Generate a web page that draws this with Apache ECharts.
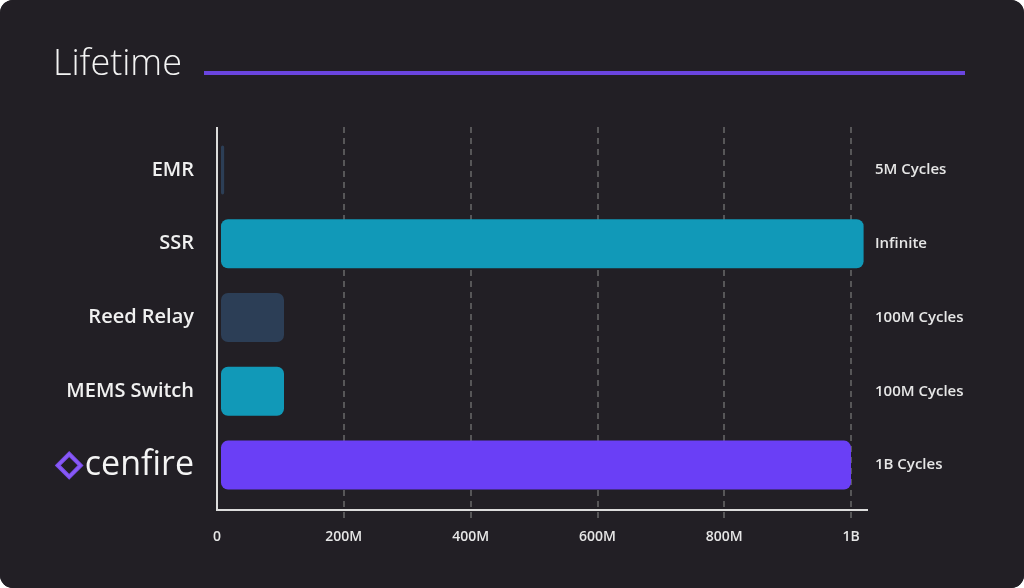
<!DOCTYPE html>
<html>
<head>
<meta charset="utf-8">
<script src="https://cdn.jsdelivr.net/npm/echarts@6/dist/echarts.min.js"></script>
<style>
  html, body { margin: 0; padding: 0; background: #ffffff; }
  #main { width: 1024px; height: 588px; border-radius: 13px; overflow: hidden; background: #221f25; }
</style>
</head>
<body>
<div id="main"></div>
<script>
// 数据
var categories = ['EMR', 'SSR', 'Reed Relay', 'MEMS Switch', 'cenfire'];
var lifetimes = [5e6, 1.02e9, 1e8, 1e8, 1e9];
var notes = ['5M Cycles', 'Infinite', '100M Cycles', '100M Cycles', '1B Cycles'];
var tickLabels = { 0: '0', 200000000: '200M', 400000000: '400M', 600000000: '600M', 800000000: '800M', 1000000000: '1B' };
var barColors = ['#2c3e56', '#1199b8', '#2c3e56', '#1199b8', '#6a3ff6'];

var chart = echarts.init(document.getElementById('main'));
var font = "'Open Sans', 'Noto Sans', sans-serif";

chart.setOption({
    backgroundColor: '#221f25',
    animation: false,
    title: {
        text: 'Lifetime',
        left: 48,
        top: 42,
        textStyle: { color: '#f3f3f3', fontSize: 36, fontWeight: 300, fontFamily: font }
    },
    graphic: [
        // 标题下的紫线
        { type: 'line', shape: { x1: 204, y1: 73, x2: 965, y2: 73 }, style: { stroke: '#6a45e0', lineWidth: 4 }, z: 10 },
        // 坐标轴线
        { type: 'line', shape: { x1: 217, y1: 127, x2: 217, y2: 511 }, style: { stroke: '#dcdcdc', lineWidth: 2 }, z: 10 },
        { type: 'line', shape: { x1: 216, y1: 510, x2: 868, y2: 510 }, style: { stroke: '#dcdcdc', lineWidth: 2 }, z: 10 }
    ],
    grid: [
        { left: 221, width: 630, top: 133, height: 369, containLabel: false },
        { left: 217, width: 634, top: 127, height: 395, containLabel: false }
    ],
    xAxis: [
        { gridIndex: 0, type: 'value', min: 0, max: 1e9, show: false },
        {
            gridIndex: 1, type: 'value', min: 0, max: 1e9, interval: 2e8,
            axisLine: { show: false }, axisTick: { show: false },
            splitLine: { show: true, showMinLine: false, lineStyle: { color: '#6a6a6a', type: [6, 5], width: 1.5 } },
            axisLabel: {
                color: '#e6e6e6', fontSize: 14, fontWeight: 600, fontFamily: font, margin: 8,
                formatter: function (v) { return tickLabels[v] !== undefined ? tickLabels[v] : ''; }
            }
        }
    ],
    yAxis: [
        {
            gridIndex: 0, type: 'category', data: categories, inverse: true,
            axisLine: { show: false }, axisTick: { show: false },
            axisLabel: {
                margin: 27, color: '#f0f0f0', fontSize: 20, fontWeight: 600, fontFamily: font,
                formatter: function (v) {
                    if (v === 'cenfire') return '{logo|◇}{brand|cenfire}';
                    return v;
                },
                rich: {
                    logo: {
                        color: '#8a5cf6', fontSize: 33, fontWeight: 'bold', fontFamily: 'DejaVu Sans',
                        textBorderColor: '#7d4ff0', textBorderWidth: 2.5, padding: [0, 3, 0, 0]
                    },
                    brand: { color: '#f4f4f4', fontSize: 34, fontWeight: 500, fontFamily: font }
                }
            }
        },
        {
            gridIndex: 0, type: 'category', data: notes, inverse: true, position: 'right',
            axisLine: { show: false }, axisTick: { show: false },
            axisLabel: { margin: 24, color: '#e6e6e6', fontSize: 15, fontWeight: 600, fontFamily: font, align: 'left' }
        },
        { gridIndex: 1, type: 'value', min: 0, max: 1, show: false }
    ],
    series: [{
        type: 'bar',
        xAxisIndex: 0,
        yAxisIndex: 0,
        data: lifetimes,
        barWidth: 49,
        clip: false,
        itemStyle: {
            borderRadius: 7,
            color: function (p) { return barColors[p.dataIndex]; }
        },
        z: 3
    }]
});
</script>
</body>
</html>
